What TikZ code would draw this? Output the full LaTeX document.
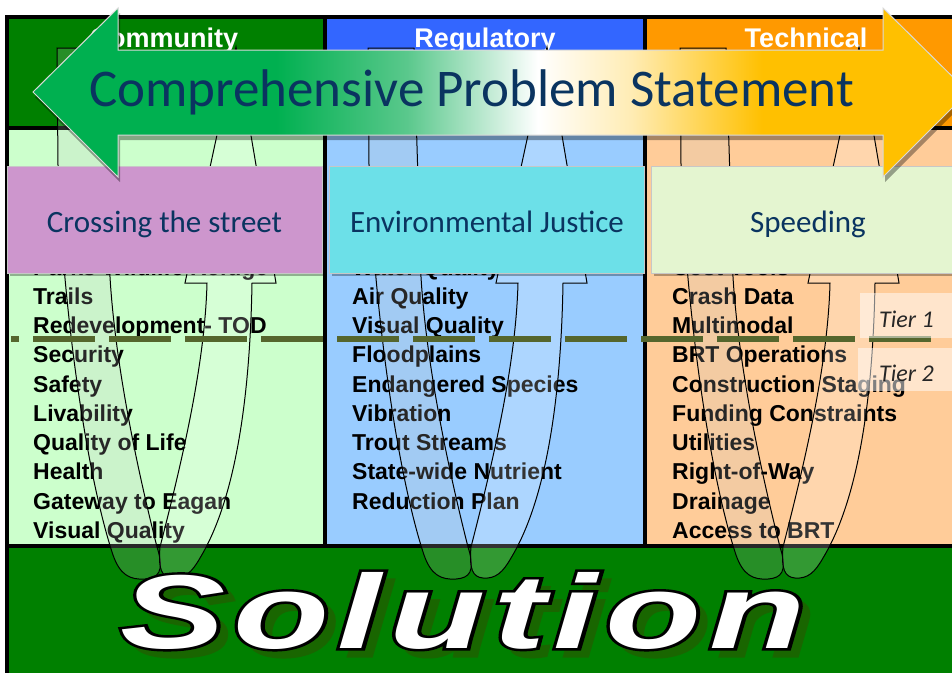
\documentclass[tikz,border=0pt]{standalone}
\usepackage{graphicx}
\usepackage{fontspec}
\setmainfont{Liberation Sans}
\newfontfamily\carlito{Carlito}
\newfontfamily\solfont[LetterSpace=5]{Liberation Sans}
\definecolor{hdrgreen}{RGB}{0,128,0}
\definecolor{hdrblue}{RGB}{51,102,255}
\definecolor{hdrorange}{RGB}{255,153,0}
\definecolor{bodygreen}{RGB}{204,255,204}
\definecolor{bodyblue}{RGB}{153,204,255}
\definecolor{bodyorange}{RGB}{255,204,153}
\definecolor{boxpurple}{RGB}{205,150,205}
\definecolor{boxcyan}{RGB}{108,224,232}
\definecolor{boxlight}{RGB}{228,245,208}
\definecolor{navy}{RGB}{10,52,96}
\definecolor{dashcol}{RGB}{85,102,45}
\definecolor{arrgreen}{RGB}{0,176,80}
\definecolor{arrmid}{RGB}{90,200,140}
\definecolor{arrpale}{RGB}{255,236,180}
\definecolor{arrgold}{RGB}{255,192,0}
\definecolor{solshadow}{RGB}{25,102,0}
\pgfdeclarehorizontalshading{probshade}{100bp}{color(0bp)=(arrgreen); color(38bp)=(arrgreen); color(45bp)=(arrmid); color(52bp)=(white); color(57bp)=(arrpale); color(64bp)=(arrgold); color(100bp)=(arrgold)}
\newcommand{\solword}{\scalebox{1.5}[1]{Solution}}
\newcommand{\solstroked}[2]{\special{pdf:literal 2 Tr #1 w #2 RG}\solword\special{pdf:literal 0 Tr 1 w}}
\newcommand{\uloop}[1]{%
  \begin{scope}[xshift=#1]
    \path[darkband] (57,48) -- (58,165) .. controls (62,300) and (85,470) .. (113,555)
      .. controls (120,575) and (130,580) .. (145,579)
      .. controls (158,578) and (165,572) .. (157,547)
      .. controls (135,460) and (115,360) .. (110,277) -- (103,48) -- cycle;
    \path[lightband] (236,47) -- (276,283) -- (252,283)
      .. controls (250,400) and (235,500) .. (200,558)
      .. controls (192,572) and (185,579) .. (172,578)
      .. controls (162,577) and (158,570) .. (160,547)
      .. controls (185,450) and (205,360) .. (207,283) -- (185,283) -- cycle;
  \end{scope}}
\begin{document}
\begin{tikzpicture}[x=1pt,y=-1pt,
  bodytxt/.style={anchor=base west, inner sep=0pt, font=\fontsize{23}{23}\selectfont\bfseries, text=black},
  hdrtxt/.style={anchor=base, inner sep=0pt, font=\fontsize{27}{27}\selectfont\bfseries, text=white},
  probbox/.style={draw=black!22, line width=1pt, inner sep=0pt, anchor=north west, minimum height=107pt},
  probtxt/.style={anchor=base, inner sep=0pt, font=\carlito\fontsize{31}{31}\selectfont, text=navy},
  darkband/.style={fill=black!22, fill opacity=0.2, draw=black, line width=1pt},
  lightband/.style={fill=white, fill opacity=0.2, draw=black, line width=1pt},
  tierbox/.style={fill=white, fill opacity=0.5, draw=none},
  tiertxt/.style={anchor=base west, inner sep=0pt, font=\carlito\itshape\fontsize{24}{24}\selectfont, text=black!85},
  framestroke/.style={draw=black, line width=3.5pt},
  soltxt/.style={anchor=base, inner sep=0pt, font=\solfont\bfseries\itshape\fontsize{105}{105}\selectfont}
]
\useasboundingbox (0,0) rectangle (952,672);
\clip (0,0) rectangle (952,672);
\fill[white] (0,0) rectangle (952,672);
% backgrounds
\fill[hdrgreen] (7,17) rectangle (325,128);
\fill[hdrblue] (325,17) rectangle (645,128);
\fill[hdrorange] (645,17) rectangle (960,128);
\fill[bodygreen] (7,128) rectangle (325,546);
\fill[bodyblue] (325,128) rectangle (645,546);
\fill[bodyorange] (645,128) rectangle (960,546);
\fill[hdrgreen] (7,546) rectangle (960,680);
% frame
\draw[framestroke] (7,680) -- (7,17) -- (960,17);
\draw[framestroke] (7,128) -- (960,128);
\draw[framestroke] (7,546) -- (960,546);
\draw[framestroke] (325,17) -- (325,546);
\draw[framestroke] (645,17) -- (645,546);
% lists
\foreach \t [count=\i from 0] in {Parks Wildlife Refuge, Trails, Redevelopment- TOD, Security, Safety, Livability, Quality of Life, Health, Gateway to Eagan, Visual Quality}
  \node[bodytxt] (com\i) at (33,{275+29.25*\i}) {\t};
\foreach \t [count=\i from 0] in {Water Quality, Air Quality, Visual Quality, Floodplains, Endangered Species, Vibration, Trout Streams, State-wide Nutrient, Reduction Plan}
  \node[bodytxt] (reg\i) at (352,{275+29.25*\i}) {\t};
\foreach \t [count=\i from 0] in {Cost Tools, Crash Data, Multimodal, BRT Operations, Construction Staging, Funding Constraints, Utilities, Right-of-Way, Drainage, Access to BRT}
  \node[bodytxt] (tec\i) at (672,{275+29.25*\i}) {\t};
% headers
\node[hdrtxt] (hcom) at (164,47) {Community};
\node[hdrtxt] (hreg) at (485,47) {Regulatory};
\node[hdrtxt] (htec) at (806,47) {Technical};
% U loops
\uloop{0}
\uloop{311}
\uloop{623}
% problem boxes
\fill[black, opacity=0.3] (10,169) rectangle (325,276);
\fill[black, opacity=0.3] (332,169) rectangle (647,276);
\fill[black, opacity=0.3] (654,169) rectangle (960,276);
\node[probbox, fill=boxpurple, minimum width=315pt] (pcross) at (7,166) {};
\node[probbox, fill=boxcyan, minimum width=315pt] (penv) at (329,166) {};
\node[probbox, fill=boxlight, minimum width=320pt] (pspeed) at (651,166) {};
\node[probtxt] (tcross) at (164.5,232) {Crossing the street};
\node[probtxt] (tenv) at (487,232) {Environmental Justice};
\node[probtxt] (tspeed) at (808,232) {Speeding};
% big double arrow
\fill[black, opacity=0.35] (35,97) -- (120,13) -- (120,55) -- (885,55) -- (885,13) -- (970,97) -- (885,182) -- (885,140) -- (120,140) -- (120,182) -- cycle;
\path[shading=probshade, draw=black!15, line width=1pt] (33,92) -- (118,8) -- (118,50) -- (883,50) -- (883,8) -- (968,92) -- (883,177) -- (883,135) -- (118,135) -- (118,177) -- cycle;
\node[anchor=base, inner sep=0pt, font=\carlito\fontsize{53}{53}\selectfont, text=navy] (title) at (471.5,106) {Comprehensive Problem Statement};
% tier line
\coordinate (tierl) at (11,339);
\coordinate (tierr) at (931,339);
\draw[dashcol, line width=6pt, dash pattern=on 62pt off 14pt, dash phase=54pt] (tierl) -- (tierr);
\fill[tierbox] (860,293) rectangle (952,338);
\fill[tierbox] (858,348) rectangle (952,391);
\node[tiertxt] (tier1) at (879,327) {Tier 1};
\node[tiertxt] (tier2) at (879,381) {Tier 2};
% Solution
\node[soltxt, text=solshadow] (solsh) at (472,656) {\solstroked{3}{0.098 0.4 0}};
\node[soltxt, text=white] (sol) at (463,648) {\solstroked{5}{0 0 0}};
\node[soltxt, text=white] (solfill) at (463,648) {\solword};
\end{tikzpicture}
\end{document}
